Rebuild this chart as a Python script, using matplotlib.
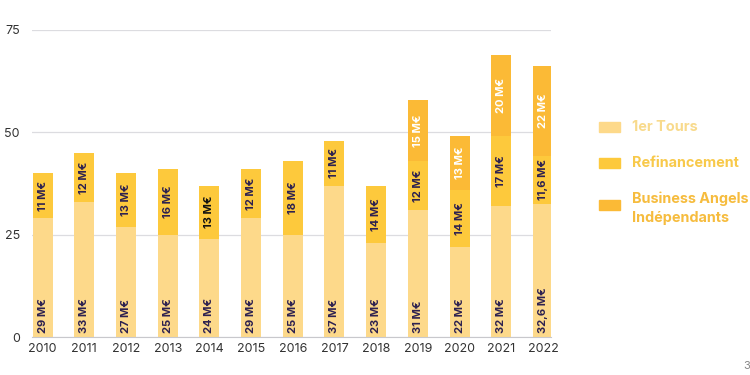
import matplotlib.pyplot as plt
from matplotlib.patches import Rectangle
import numpy as np

years = ["2010", "2011", "2012", "2013", "2014", "2015", "2016",
         "2017", "2018", "2019", "2020", "2021", "2022"]
premiers_tours = [29, 33, 27, 25, 24, 29, 25, 37, 23, 31, 22, 32, 32.6]
refinancement = [11, 12, 13, 16, 13, 12, 18, 11, 14, 12, 14, 17, 11.6]
business_angels = [0, 0, 0, 0, 0, 0, 0, 0, 0, 15, 13, 20, 22]

series_names = ["1er Tours", "Refinancement", "Business Angels\nIndépendants"]
colors = ["#FDD98A", "#FDC93C", "#FBBA36"]
legend_text_colors = ["#F8DA8C", "#F8C94A", "#F6BC3E"]

plt.rcParams["font.family"] = ["Inter", "DejaVu Sans"]

LABEL_DARK = "#2D2150"


def fmt(v):
    if float(v).is_integer():
        return f"{int(v)} M€"
    return f"{v}".replace(".", ",") + " M€"


fig = plt.figure(figsize=(7.5, 3.75), dpi=100)
ax = fig.add_axes([0.043, 0.101, 0.692, 0.819])

x = np.arange(len(years))
width = 0.48
p1 = np.array(premiers_tours)
p2 = np.array(refinancement)
p3 = np.array(business_angels)

ax.bar(x, p1, width, color=colors[0], zorder=2)
ax.bar(x, p2, width, bottom=p1, color=colors[1], zorder=2)
ax.bar(x, p3, width, bottom=p1 + p2, color=colors[2], zorder=2)

for i in range(len(years)):
    ax.text(x[i], 0.9, fmt(p1[i]), rotation=90, ha="center", va="bottom",
            fontsize=8, fontweight="bold", color=LABEL_DARK, zorder=3)
    ax.text(x[i], p1[i] + p2[i] / 2, fmt(p2[i]), rotation=90, ha="center",
            va="center", fontsize=8, fontweight="bold",
            color="#111111" if years[i] == "2014" else LABEL_DARK, zorder=3)
    if p3[i] > 0:
        ax.text(x[i], p1[i] + p2[i] + p3[i] / 2, fmt(p3[i]), rotation=90,
                ha="center", va="center", fontsize=8, fontweight="bold",
                color="white", zorder=3)

ax.set_xlim(-0.25, 12.2)
ax.set_ylim(0, 75)
ax.set_yticks([0, 25, 50, 75])
ax.set_xticks(x)
ax.set_xticklabels(years)
ax.grid(axis="y", color="#DCDCE0", linewidth=0.9, zorder=0)
for s in ["top", "right", "left"]:
    ax.spines[s].set_visible(False)
ax.spines["bottom"].set_color("#C8C8CC")
ax.tick_params(axis="both", length=0, labelsize=9, colors="#333333")
ax.tick_params(axis="y", pad=9)
ax.tick_params(axis="x", pad=4)

# legend drawn by hand on the right side
legend_y = [0.661, 0.565, 0.453]
text_shift = [0.0, 0.0, -0.008]
for name, c, tc, ly, dy in zip(series_names, colors, legend_text_colors,
                               legend_y, text_shift):
    fig.patches.append(Rectangle((0.799, ly - 0.013), 0.028, 0.027,
                                 transform=fig.transFigure, color=c))
    fig.text(0.843, ly + dy, name, fontsize=10.4, fontweight="bold",
             color=tc, va="center", ha="left", linespacing=1.4)

fig.text(0.991, 0.01, "3", fontsize=8, color="#888888", ha="left", va="bottom")

fig.savefig("out.png", dpi=100)
